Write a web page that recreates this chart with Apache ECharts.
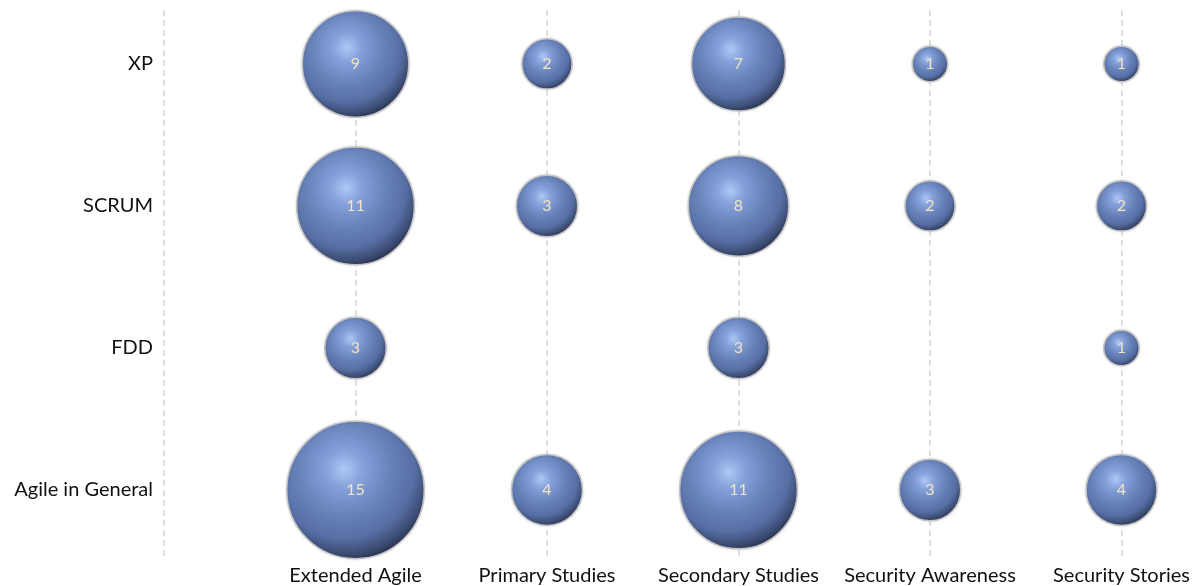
<!DOCTYPE html>
<html>
<head>
<meta charset="utf-8">
<script src="https://cdn.jsdelivr.net/npm/echarts@6/dist/echarts.min.js"></script>
<style>
  html, body { margin: 0; padding: 0; background: #fff; }
  #chart { width: 1195px; height: 586px; }
</style>
</head>
<body>
<div id="chart"></div>
<script>
// categories along x (1..5) and rows along y (1 = bottom)
const categories = ['Extended Agile', 'Primary Studies', 'Secondary Studies', 'Security Awareness', 'Security Stories']
const rows = ['Agile in General', 'FDD', 'SCRUM', 'XP']

// counts per row, one value per category (null = no bubble)
const agileInGeneral = [15, 4, 11, 3, 4]
const fdd = [3, null, 3, null, 1]
const scrum = [11, 3, 8, 2, 2]
const xp = [9, 2, 7, 1, 1]

const rowValues = [agileInGeneral, fdd, scrum, xp]

// build [x, y, value] points
const points = []
rowValues.forEach((vals, r) => {
  vals.forEach((v, c) => {
    if (v != null) points.push([c + 1, r + 1, v])
  })
})

const chart = echarts.init(document.getElementById('chart'))

const sphere = new echarts.graphic.RadialGradient(0.42, 0.35, 0.72, [
  { offset: 0, color: '#aec8f6' },
  { offset: 0.18, color: '#86a2da' },
  { offset: 0.45, color: '#6983bb' },
  { offset: 0.7, color: '#566ea3' },
  { offset: 0.85, color: '#3b4b72' },
  { offset: 1, color: '#161c2b' }
])

const font = 'Lato, "Open Sans", sans-serif'

const option = {
  animation: false,
  grid: { left: 164, right: 73.5, top: 10, bottom: 29 },
  xAxis: {
    type: 'value',
    min: 0,
    max: 5,
    interval: 1,
    axisLine: { show: false },
    axisTick: { show: false },
    axisLabel: {
      color: '#111',
      fontSize: 20,
      fontFamily: font,
      margin: 9,
      formatter: v => categories[v - 1] || ''
    },
    splitLine: {
      show: true,
      lineStyle: { color: '#d6d6d6', width: 1.5, type: [6, 4] }
    }
  },
  yAxis: {
    type: 'value',
    min: 0.528,
    max: 4.38,
    axisLine: { show: false },
    axisTick: { show: false },
    splitLine: { show: false },
    axisLabel: {
      customValues: [1, 2, 3, 4],
      color: '#111',
      fontSize: 20,
      fontFamily: font,
      margin: 11,
      formatter: v => rows[Math.round(v) - 1] || ''
    }
  },
  series: [
    {
      type: 'scatter',
      data: points,
      symbolSize: d => 35.5 * Math.sqrt(d[2]),
      itemStyle: {
        color: sphere,
        opacity: 1,
        borderColor: '#c4c4c4',
        borderWidth: 1.5,
        shadowColor: 'rgba(0,0,0,0.12)',
        shadowBlur: 3
      },
      label: {
        show: true,
        position: 'inside',
        formatter: p => p.data[2],
        color: '#f1e4c3',
        fontSize: 16,
        fontFamily: font
      }
    }
  ]
}

chart.setOption(option)
</script>
</body>
</html>
